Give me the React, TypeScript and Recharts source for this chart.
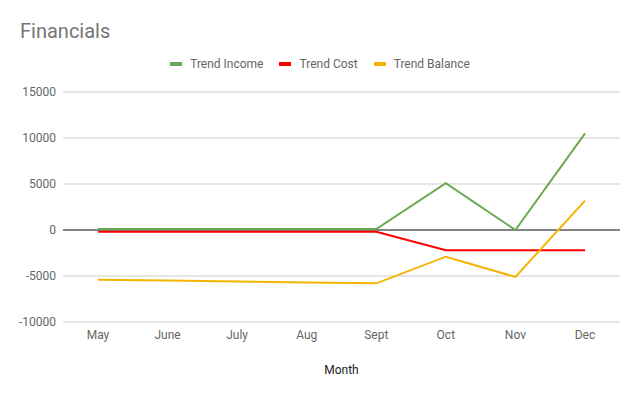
import { LineChart, Line, XAxis, YAxis, CartesianGrid, ReferenceLine } from 'recharts';

const months = ['May', 'June', 'July', 'Aug', 'Sept', 'Oct', 'Nov', 'Dec'];
const trendIncome = [100, 100, 100, 100, 100, 5100, 0, 10500];
const trendCost = [-200, -200, -200, -200, -200, -2200, -2200, -2200];
const trendBalance = [-5400, -5500, -5600, -5700, -5800, -2900, -5100, 3200];
const yTicks = [-10000, -5000, 0, 5000, 10000, 15000];

const data = months.map((m, i) => ({
  month: m,
  income: trendIncome[i],
  cost: trendCost[i],
  balance: trendBalance[i],
}));

const legendItems = [
  { name: 'Trend Income', color: '#6aa84f' },
  { name: 'Trend Cost', color: '#ff0000' },
  { name: 'Trend Balance', color: '#f4b400' },
];

export default function App() {
  return (
    <div style={{ position: 'absolute', left: 0, top: 0, width: 640, height: 396, background: '#fff', fontFamily: 'Roboto, sans-serif' }}>
      <div style={{ position: 'absolute', left: 20, top: 19, fontSize: 20, color: '#757575' }}>Financials</div>
      <div style={{ position: 'absolute', left: 0, top: 57, width: 640, display: 'flex', justifyContent: 'center', fontSize: 12, color: '#666' }}>
        {legendItems.map((it) => (
          <div key={it.name} style={{ display: 'flex', alignItems: 'center', margin: '0 8px' }}>
            <span style={{ width: 12, height: 4, background: it.color, marginRight: 8, display: 'inline-block' }} />
            {it.name}
          </div>
        ))}
      </div>
      <div style={{ position: 'absolute', left: 0, top: 0 }}>
        <LineChart width={640} height={396} data={data} margin={{ top: 92, right: 20, bottom: 0, left: 0 }}>
          <CartesianGrid stroke="#cccccc" vertical={false} />
          <XAxis
            dataKey="month"
            axisLine={false}
            tickLine={false}
            tickSize={0}
            tickMargin={8}
            height={74}
            padding={{ left: 35, right: 35 }}
            interval={0}
            tick={{ fontSize: 12, fill: '#666', fontFamily: 'Roboto' }}
            label={{ value: 'Month', position: 'insideBottom', offset: 22, fontSize: 12, fill: '#222', fontFamily: 'Roboto' }}
          />
          <YAxis
            domain={[-10000, 15000]}
            ticks={yTicks}
            axisLine={false}
            tickLine={false}
            tickSize={0}
            tickMargin={7}
            width={63}
            interval={0}
            tick={{ fontSize: 12, fill: '#666', fontFamily: 'Roboto' }}
          />
          <ReferenceLine y={0} stroke="#222" strokeWidth={1} />
          <Line dataKey="income" stroke="#6aa84f" strokeWidth={2} dot={false} isAnimationActive={false} />
          <Line dataKey="cost" stroke="#ff0000" strokeWidth={2} dot={false} isAnimationActive={false} />
          <Line dataKey="balance" stroke="#f4b400" strokeWidth={2} dot={false} isAnimationActive={false} />
        </LineChart>
      </div>
    </div>
  );
}
